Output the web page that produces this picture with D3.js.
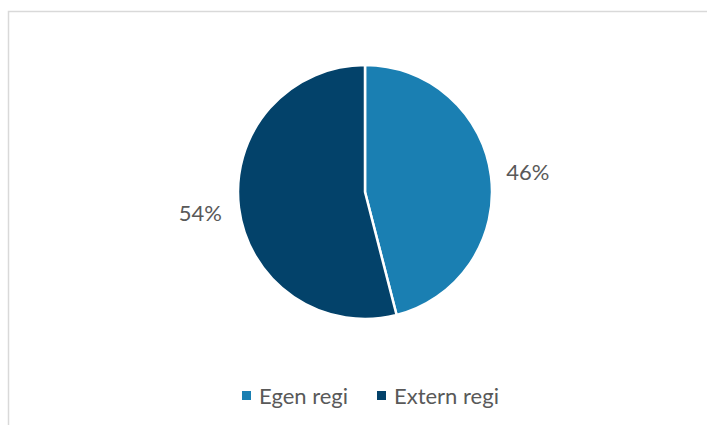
<!DOCTYPE html>
<html>
<head>
<meta charset="utf-8">
<script src="https://cdn.jsdelivr.net/npm/d3@7"></script>
<style>
  body { margin: 0; background: #ffffff; }
  svg text { font-family: Lato, "Open Sans", sans-serif; fill: #595959; }
</style>
</head>
<body>
<svg id="chart" width="707" height="425"></svg>
<script>
  // Chart data
  var categories = ["Egen regi", "Extern regi"];
  var shares = [46, 54];
  var colors = ["#1a7fb2", "#03426a"];

  var svg = d3.select("svg#chart"),
      cx = 365, cy = 192, radius = 127;

  // outer frame
  svg.append("rect").attr("x", 8.5).attr("y", 11.5)
      .attr("width", 710).attr("height", 430)
      .attr("fill", "none").attr("stroke", "#d9d9d9").attr("stroke-width", 1.5);

  var data = categories.map(function (c, i) { return {name: c, value: shares[i], color: colors[i]}; });

  var pie = d3.pie().sort(null).value(d => d.value);
  var arc = d3.arc().innerRadius(0).outerRadius(radius);

  var group = svg.append("g").attr("transform", "translate(" + cx + "," + cy + ")");
  var arcs = pie(data);

  group.selectAll("path").data(arcs).enter().append("path")
      .attr("d", arc)
      .attr("fill", d => d.data.color)
      .attr("stroke", "#ffffff")
      .attr("stroke-width", 2.5)
      .attr("stroke-linejoin", "round");

  // percentage labels outside the pie
  var labelArc = d3.arc().innerRadius(radius + 34).outerRadius(radius + 34);
  group.selectAll("text.pct").data(arcs).enter().append("text")
      .attr("class", "pct")
      .attr("x", d => labelArc.centroid(d)[0] + (d.index === 0 ? 3 : -5))
      .attr("y", d => labelArc.centroid(d)[1])
      .attr("text-anchor", "middle")
      .attr("dominant-baseline", "central")
      .attr("font-size", 22)
      .text(d => d.data.value + "%");

  // legend
  var legendX = [242, 377];
  var legend = svg.selectAll("g.legend").data(data).enter().append("g")
      .attr("class", "legend")
      .attr("transform", (d, i) => "translate(" + legendX[i] + ",391)");
  legend.append("rect").attr("width", 9).attr("height", 9)
      .attr("fill", d => d.color);
  legend.append("text").attr("x", 17).attr("y", 4.5)
      .attr("dominant-baseline", "central")
      .attr("font-size", 22)
      .text(d => d.name);
</script>
</body>
</html>
